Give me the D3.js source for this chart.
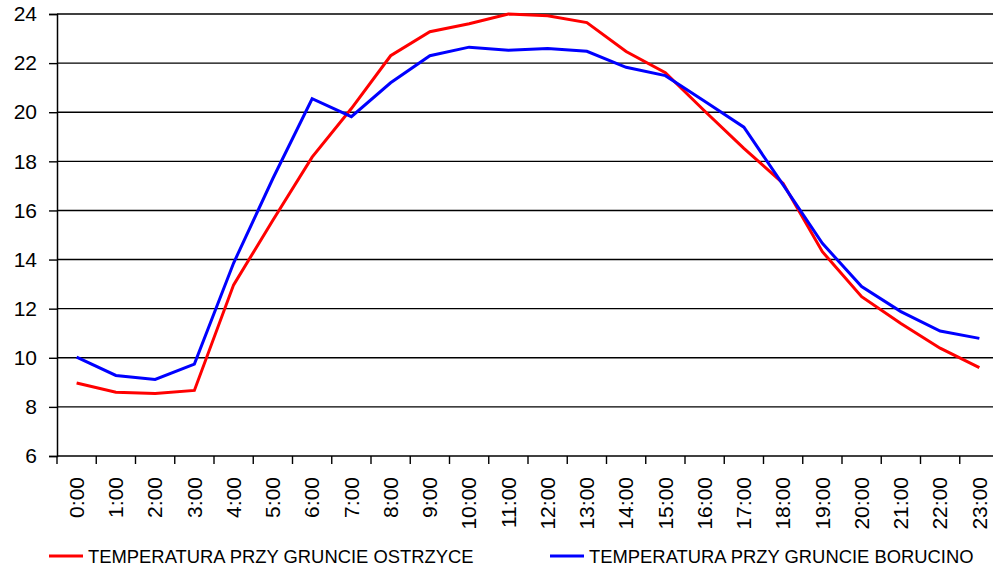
<!DOCTYPE html>
<html>
<head>
<meta charset="utf-8">
<script src="https://cdn.jsdelivr.net/npm/d3@7/dist/d3.min.js"></script>
<style>
  html, body { margin: 0; padding: 0; background: #fff; }
  svg { display: block; font-family: "Liberation Sans", Arial, sans-serif; }
</style>
</head>
<body>
<svg id="chart" width="993" height="567"></svg>
<script>
const categories = ["0:00","1:00","2:00","3:00","4:00","5:00","6:00","7:00","8:00","9:00","10:00","11:00",
  "12:00","13:00","14:00","15:00","16:00","17:00","18:00","19:00","20:00","21:00","22:00","23:00"];
const ostrzyce = [8.97, 8.6, 8.55, 8.67, 12.97, 15.6, 18.17, 20.15, 22.3, 23.28, 23.6, 24.0,
  23.93, 23.65, 22.47, 21.61, 20.05, 18.53, 17.1, 14.32, 12.49, 11.4, 10.39, 9.6];
const borucino = [10.03, 9.28, 9.12, 9.74, 13.86, 17.3, 20.55, 19.82, 21.2, 22.3, 22.65, 22.52,
  22.59, 22.48, 21.83, 21.49, 20.45, 19.39, 17.04, 14.66, 12.9, 11.88, 11.09, 10.79];
const yTicks = [6, 8, 10, 12, 14, 16, 18, 20, 22, 24];
const seriesNames = ["TEMPERATURA PRZY GRUNCIE OSTRZYCE", "TEMPERATURA PRZY GRUNCIE BORUCINO"];
const seriesColors = ["#ff0000", "#0000ff"];

(function () {
const svg = d3.select("#chart");
const pL = 57, pR = 999, pT = 14, pB = 456;

const x = d3.scaleBand().domain(categories).range([pL, pR]).padding(0);
const y = d3.scaleLinear().domain([6, 24]).range([pB, pT]);

// gridlines
svg.append("g")
  .selectAll("line")
  .data(yTicks.filter(d => d !== 6))
  .join("line")
  .attr("x1", pL).attr("x2", pR)
  .attr("y1", d => y(d)).attr("y2", d => y(d))
  .attr("stroke", "#000").attr("stroke-width", 1.4);

// y axis
const yAxis = svg.append("g")
  .attr("transform", `translate(${pL},0)`)
  .call(d3.axisLeft(y).tickValues(yTicks).tickSize(8).tickPadding(12).tickFormat(d3.format("d")));
yAxis.select(".domain").attr("stroke", "#000").attr("stroke-width", 1.5);
yAxis.selectAll(".tick line").attr("stroke", "#000").attr("stroke-width", 1.4);
yAxis.selectAll(".tick text").attr("font-size", 21).attr("fill", "#000")
  .attr("font-family", "Liberation Sans, Arial, sans-serif");

// x axis line
svg.append("line")
  .attr("x1", pL).attr("x2", pR).attr("y1", pB).attr("y2", pB)
  .attr("stroke", "#000").attr("stroke-width", 1.5);

// x ticks at category boundaries
const boundaries = categories.map(c => x(c)).concat([x(categories[categories.length - 1]) + x.bandwidth()]);
svg.append("g").selectAll("line")
  .data(boundaries)
  .join("line")
  .attr("x1", d => d).attr("x2", d => d)
  .attr("y1", pB).attr("y2", pB + 8)
  .attr("stroke", "#000").attr("stroke-width", 1.4);

// x labels rotated
svg.append("g").selectAll("text")
  .data(categories)
  .join("text")
  .attr("transform", d => `translate(${x(d) + x.bandwidth() / 2},${pB + 21}) rotate(-90)`)
  .attr("text-anchor", "end")
  .attr("dy", "0.35em")
  .attr("font-size", 21)
  .attr("fill", "#000")
  .text(d => d);

// lines
const line = d3.line()
  .x((d, i) => x(categories[i]) + x.bandwidth() / 2)
  .y(d => y(d));

[ostrzyce, borucino].forEach((s, k) => {
  svg.append("path")
    .datum(s)
    .attr("d", line)
    .attr("fill", "none")
    .attr("stroke", seriesColors[k])
    .attr("stroke-width", 3)
    .attr("stroke-linejoin", "miter");
});

// legend
const legendX = [49, 550];
seriesNames.forEach((name, k) => {
  const g = svg.append("g").attr("transform", `translate(${legendX[k]},556)`);
  g.append("line").attr("x1", 0).attr("x2", 34).attr("y1", 0).attr("y2", 0)
    .attr("stroke", seriesColors[k]).attr("stroke-width", 3);
  g.append("text").attr("x", 39).attr("y", 0).attr("dy", "0.36em")
    .attr("font-size", 18.4).attr("fill", "#000").text(name);
});
})();
</script>
</body>
</html>
